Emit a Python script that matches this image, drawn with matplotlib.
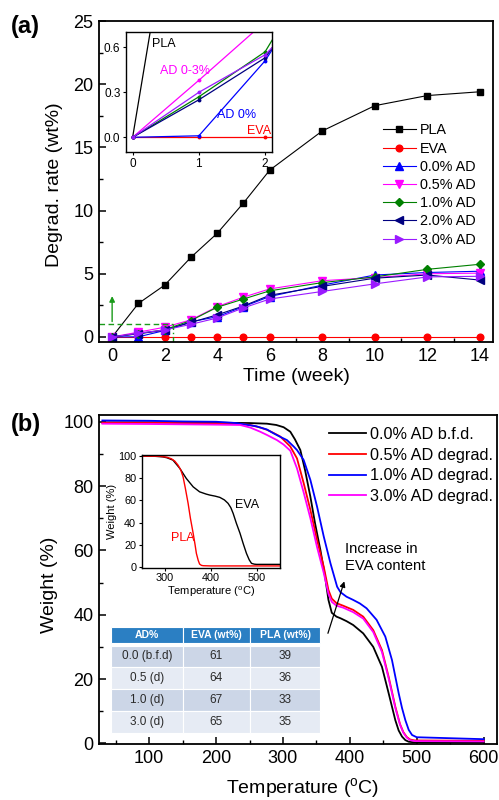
import matplotlib
matplotlib.use("Agg")
import matplotlib.pyplot as plt
from matplotlib.patches import Rectangle
from matplotlib.ticker import MultipleLocator, FormatStrFormatter

plt.rcParams["font.family"] = ["Liberation Sans", "DejaVu Sans"]
plt.rcParams["mathtext.fontset"] = "custom"
plt.rcParams["mathtext.rm"] = "Liberation Sans"
plt.rcParams["mathtext.it"] = "Liberation Sans:italic"

# ---------------- (a) degradation rate vs time ----------------
weeks = [0, 1, 2, 3, 4, 5, 6, 8, 10, 12, 14]
pla_rate = [0, 2.65, 4.1, 6.3, 8.2, 10.6, 13.2, 16.3, 18.3, 19.1, 19.4]
eva_rate = [0, 0, 0, 0, 0, 0, 0, 0, 0, 0, 0]
ad00_rate = [0, 0.01, 0.51, 1.2, 1.6, 2.4, 3.2, 4.1, 4.9, 5.1, 5.2]
ad05_rate = [0, 0.38, 0.77, 1.35, 2.4, 3.15, 3.8, 4.45, 4.7, 5.0, 5.05]
ad10_rate = [0, 0.27, 0.57, 1.3, 2.35, 3.0, 3.65, 4.3, 4.75, 5.35, 5.75]
ad20_rate = [0, 0.25, 0.53, 1.15, 1.75, 2.45, 3.3, 4.0, 4.65, 4.9, 4.5]
ad30_rate = [0, 0.30, 0.55, 1.0, 1.5, 2.3, 3.0, 3.6, 4.2, 4.75, 4.8]

rate_labels = ["PLA", "EVA", "0.0% AD", "0.5% AD", "1.0% AD", "2.0% AD", "3.0% AD"]
rate_series = [pla_rate, eva_rate, ad00_rate, ad05_rate, ad10_rate, ad20_rate, ad30_rate]
rate_colors = ["#000000", "#FF0000", "#0000FF", "#FF00FF", "#008000", "#000080", "#9A1AFF"]
rate_markers = ["s", "o", "^", "v", "D", "<", ">"]
rate_msizes = [4.6, 4.8, 5.2, 5.2, 4.4, 5.2, 5.2]

# ---------------- (b) TGA curves ----------------
t_bfd00 = [30, 100, 200, 250, 276, 290, 301, 311, 318, 326, 333, 341, 348, 356, 363,
           368, 373, 380, 386, 395, 405, 420, 435, 448, 458, 468, 473, 478, 483, 488, 495, 600]
w_bfd00 = [99.8, 99.8, 99.7, 99.6, 99.4, 99.0, 98.3, 96.9, 94.5, 91.2, 85.0, 76.7, 68.4, 60.1, 51.8,
           44.6, 40.6, 39.4, 38.9, 38.0, 36.8, 34.2, 30.0, 23.8, 15.6, 7.2, 4.0, 2.1, 1.0, 0.5, 0.35, 0.3]

t_deg05 = [30, 100, 200, 236, 251, 266, 276, 286, 296, 311, 321, 331, 341, 351, 361,
           368, 373, 380, 390, 405, 420, 435, 448, 458, 468, 475, 480, 485, 490, 497, 600]
w_deg05 = [99.7, 99.7, 99.5, 99.3, 99.0, 98.2, 97.5, 96.5, 95.4, 92.3, 88.6, 80.9, 72.6, 63.2, 54.9,
           47.7, 45.0, 43.6, 42.8, 41.5, 39.4, 35.2, 29.0, 20.7, 11.4, 6.0, 3.5, 2.0, 1.2, 0.9, 0.8]

t_deg10 = [30, 100, 150, 200, 230, 260, 276, 286, 296, 306, 316, 321, 331, 341, 351, 361,
           371, 381, 386, 395, 405, 415, 425, 440, 453, 463, 473, 478, 483, 488, 493, 500, 600]
w_deg10 = [100.4, 100.3, 100.1, 100.0, 99.6, 98.6, 97.6, 96.4, 95.3, 94.3, 92.3, 91.2, 88.1, 81.9, 73.6, 64.3,
           56.0, 48.7, 47.0, 45.6, 44.6, 43.5, 42.0, 38.4, 33.2, 25.9, 15.6, 11.0, 7.2, 4.2, 2.6, 1.9, 1.3]

t_deg30 = [30, 100, 200, 236, 251, 266, 276, 291, 301, 311, 321, 331, 341, 351, 361,
           368, 373, 380, 390, 405, 420, 435, 448, 458, 468, 475, 480, 485, 490, 497, 600]
w_deg30 = [99.4, 99.3, 99.1, 99.0, 98.2, 96.9, 95.9, 94.3, 92.9, 91.0, 85.5, 78.0, 70.0, 61.0, 53.0,
           46.5, 44.0, 42.8, 42.2, 40.8, 38.8, 34.6, 28.4, 20.2, 11.0, 5.8, 3.3, 1.8, 1.0, 0.7, 0.6]

tga_labels = ["0.0% AD b.f.d.", "0.5% AD degrad.", "1.0% AD degrad.", "3.0% AD degrad."]
tga_temps = [t_bfd00, t_deg05, t_deg10, t_deg30]
tga_weights = [w_bfd00, w_deg05, w_deg10, w_deg30]
tga_colors = ["#000000", "#FF0000", "#0000FF", "#FF00FF"]

# neat polymers (inset)
t_eva = [250, 280, 296, 305, 318, 333, 347, 362, 376, 390, 398, 410, 420, 430, 438, 444,
         449, 456, 464, 471, 478, 484, 489, 495, 500, 550]
w_eva = [100, 99.8, 99.3, 98.5, 96.4, 88.9, 79.9, 72.3, 67.8, 65.8, 64.9, 63.9, 62.8, 60.5, 57.4, 53.5,
         48.4, 39.5, 30.4, 21.0, 12.3, 6.5, 3.3, 2.6, 2.4, 2.4]
t_pla = [250, 290, 305, 315, 322, 329, 335, 340, 345, 351, 356, 362, 366, 369, 373, 376, 380, 384, 400, 550]
w_pla = [100, 99.8, 99.0, 97.5, 95.5, 91.9, 87.5, 81.4, 71.0, 57.4, 44.0, 30.4, 20.5, 12.3, 6.0, 2.7,
         1.5, 1.2, 1.0, 1.0]

# composition table
table_header = ["AD%", "EVA (wt%)", "PLA (wt%)"]
table_ad = ["0.0 (b.f.d)", "0.5 (d)", "1.0 (d)", "3.0 (d)"]
table_eva = ["61", "64", "67", "65"]
table_pla = ["39", "36", "33", "35"]

W_PX, H_PX = 499, 800
fig = plt.figure(figsize=(W_PX / 100, H_PX / 100), dpi=100)


def fx(px):
    return px / W_PX


def fy(py):
    return 1 - py / H_PX


def box(l, t, r, b):
    return [fx(l), fy(b), (r - l) / W_PX, (b - t) / H_PX]


def style_main(ax):
    for s in ax.spines.values():
        s.set_linewidth(1.3)
    ax.tick_params(which="both", direction="in", top=False, right=False, labelsize=13)
    ax.tick_params(which="major", length=5, width=1.1, pad=4)
    ax.tick_params(which="minor", length=3, width=1.0)


def style_inset(ax, size):
    for s in ax.spines.values():
        s.set_linewidth(1.0)
    ax.tick_params(which="both", direction="out", top=False, right=False,
                   labelsize=size, length=2.5, width=0.8, pad=1.5)


# ---- panel (a) ----
ax_a = fig.add_axes(box(99, 21, 493, 342))
for vals, lab, c, m, ms in zip(rate_series, rate_labels, rate_colors, rate_markers, rate_msizes):
    ax_a.plot(weeks, vals, color=c, lw=0.8, marker=m, ms=ms, mfc=c, mec=c, label=lab)
ax_a.set_xlim(-0.5, 14.5)
ax_a.set_ylim(-0.4, 25)
ax_a.xaxis.set_major_locator(MultipleLocator(2))
ax_a.xaxis.set_minor_locator(MultipleLocator(1))
ax_a.yaxis.set_major_locator(MultipleLocator(5))
ax_a.yaxis.set_minor_locator(MultipleLocator(2.5))
style_main(ax_a)

# 1 wt% threshold guide
ax_a.plot([-0.5, 2.3], [1, 1], ls=(0, (4, 2.5)), color="#1A9A1A", lw=1.0)
ax_a.plot([2.3, 2.3], [-0.4, 1], ls=(0, (4, 2, 1, 2)), color="#1A9A1A", lw=1.0)
ax_a.annotate("", xy=(0, 3.45), xytext=(0, 1),
              arrowprops=dict(arrowstyle="-|>", color="#1A9A1A", lw=1.0, mutation_scale=8))

ax_a.legend(loc="upper left", bbox_to_anchor=(fx(382.7), fy(123.5)), bbox_transform=fig.transFigure,
            frameon=False, fontsize=10.4, handlelength=2.3, handletextpad=0.3,
            labelspacing=0.29, borderpad=0, borderaxespad=0, numpoints=1)

fig.text(fx(55), fy(185), "Degrad. rate (wt%)", rotation=90, ha="center", va="center", fontsize=14)
fig.text(fx(296), fy(377), "Time (week)", ha="center", va="center", fontsize=14)
fig.text(fx(11), fy(26), "(a)", ha="left", va="center", fontsize=17, fontweight="bold")

# inset: early weeks
ax_ia = fig.add_axes(box(126, 32.3, 271.7, 152.3))
for vals, c in zip(rate_series, rate_colors):
    ax_ia.plot(weeks, vals, color=c, lw=0.9, marker="o", ms=1.8, mfc=c, mec=c)
ax_ia.set_xlim(-0.1, 2.1)
ax_ia.set_ylim(-0.1, 0.7)
ax_ia.set_xticks([0, 1, 2])
ax_ia.set_yticks([0.0, 0.3, 0.6])
ax_ia.yaxis.set_major_formatter(FormatStrFormatter("%.1f"))
style_inset(ax_ia, 8.5)
ax_ia.text(0.3, 0.62, "PLA", color="#000000", fontsize=9, va="center")
ax_ia.text(0.42, 0.44, "AD 0-3%", color="#FF00FF", fontsize=9, va="center")
ax_ia.text(1.28, 0.147, "AD 0%", color="#0000FF", fontsize=9, va="center")
ax_ia.text(1.73, 0.045, "EVA", color="#FF0000", fontsize=9, va="center")

# ---- panel (b) ----
ax_b = fig.add_axes(box(99, 415, 497, 744))
for t, w, lab, c in zip(tga_temps, tga_weights, tga_labels, tga_colors):
    ax_b.plot(t, w, color=c, lw=1.3, label=lab)
ax_b.set_xlim(25, 620)
ax_b.set_ylim(-0.2, 102.1)
ax_b.xaxis.set_major_locator(MultipleLocator(100))
ax_b.xaxis.set_minor_locator(MultipleLocator(50))
ax_b.yaxis.set_major_locator(MultipleLocator(20))
ax_b.yaxis.set_minor_locator(MultipleLocator(10))
style_main(ax_b)

ax_b.legend(loc="upper left", bbox_to_anchor=(fx(329), fy(427)), bbox_transform=fig.transFigure,
            frameon=False, fontsize=11.7, handlelength=2.3, handletextpad=0.25,
            labelspacing=0.35, borderpad=0, borderaxespad=0)

ax_b.annotate("", xy=(393, 51.2), xytext=(366, 33.4),
              arrowprops=dict(arrowstyle="-|>", color="black", lw=0.9, mutation_scale=8))
fig.text(fx(345), fy(557.5), "Increase in\nEVA content", ha="left", va="center",
         fontsize=10.6, linespacing=1.25)

fig.text(fx(50), fy(584.5), "Weight (%)", rotation=90, ha="center", va="center", fontsize=14)
fig.text(fx(303), fy(788), r"Temperature ($^{\mathrm{o}}$C)", ha="center", va="center", fontsize=14)
fig.text(fx(11), fy(424), "(b)", ha="left", va="center", fontsize=17, fontweight="bold")

# inset: neat polymers
ax_ib = fig.add_axes(box(141.7, 455, 280, 567.7))
ax_ib.plot(t_eva, w_eva, color="#000000", lw=1.0)
ax_ib.plot(t_pla, w_pla, color="#FF0000", lw=1.0)
ax_ib.set_xlim(250, 551)
ax_ib.set_ylim(-0.6, 101)
ax_ib.set_xticks([300, 400, 500])
ax_ib.set_yticks([0, 20, 40, 60, 80, 100])
style_inset(ax_ib, 7.8)
ax_ib.set_ylabel("Weight (%)", fontsize=8, labelpad=1)
ax_ib.set_xlabel(r"Temperature ($^{\mathrm{o}}$C)", fontsize=8, labelpad=1)
ax_ib.text(453, 56, "EVA", color="#000000", fontsize=9, va="center")
ax_ib.text(313, 26, "PLA", color="#FF0000", fontsize=9, va="center")

# composition table
col_x = [111, 182.5, 250, 320]
head_top, head_bot = 627.3, 643.3
row_top = 645.5
row_h = (733.3 - row_top) / 4
header_color = "#2B7FC3"
row_colors = ["#CCD6E7", "#E6EBF4", "#CCD6E7", "#E6EBF4"]
columns = [table_ad, table_eva, table_pla]

for j, head in enumerate(table_header):
    l, r = col_x[j], col_x[j + 1]
    fig.patches.append(Rectangle((fx(l), fy(head_bot)), (r - l) / W_PX, (head_bot - head_top) / H_PX,
                                 transform=fig.transFigure, facecolor=header_color,
                                 edgecolor="white", lw=0.8, zorder=5))
    fig.text(fx((l + r) / 2), fy((head_top + head_bot) / 2), head, ha="center", va="center",
             color="white", fontsize=7.5, fontweight="bold", zorder=6)
    for i, cell in enumerate(columns[j]):
        t = row_top + i * row_h
        b = t + row_h
        fig.patches.append(Rectangle((fx(l), fy(b)), (r - l) / W_PX, row_h / H_PX,
                                     transform=fig.transFigure, facecolor=row_colors[i],
                                     edgecolor="white", lw=0.8, zorder=5))
        fig.text(fx((l + r) / 2), fy(t + row_h / 2), cell, ha="center", va="center",
                 color="#2A2A2A", fontsize=8.5, zorder=6)

fig.savefig("out.png", dpi=100)
